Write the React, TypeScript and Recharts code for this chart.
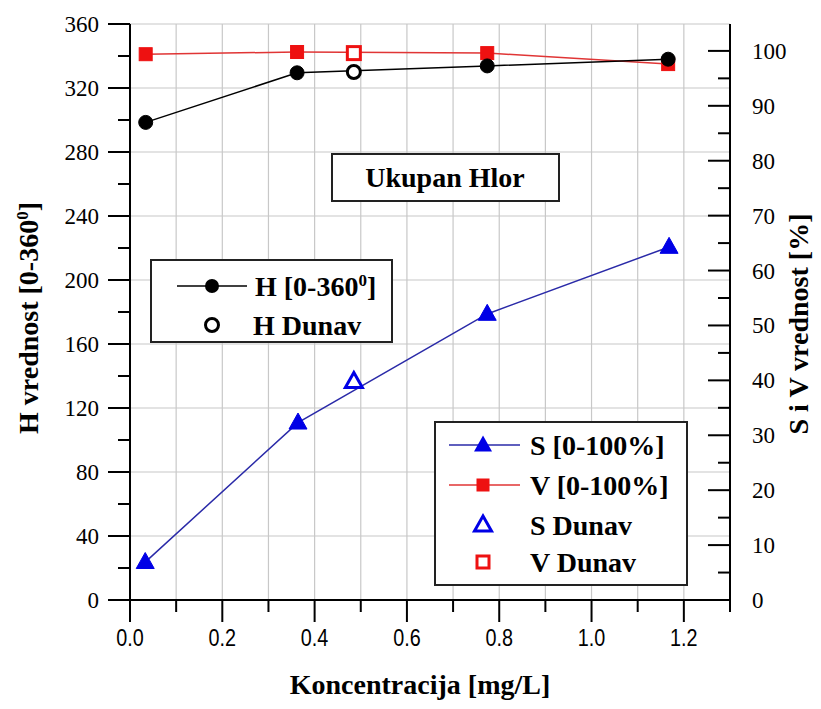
import React from 'react';
import { ComposedChart, Line, XAxis, YAxis, CartesianGrid, Legend } from 'recharts';

// ---- data ----
const hConc = [0.034, 0.362, 0.774, 1.166];
const hValues = [298.5, 329.5, 333.8, 338];
const sConc = [0.033, 0.364, 0.774, 1.168];
const sValues = [6.9, 32.3, 52.1, 64.3];
const vConc = [0.034, 0.362, 0.774, 1.166];
const vValues = [99.4, 99.8, 99.6, 97.6];
const dunavConc = [0.485];
const hDunav = [330];
const sDunav = [39.8];
const vDunav = [99.6];

const xTicks = [0, 0.1, 0.2, 0.3, 0.4, 0.5, 0.6, 0.7, 0.8, 0.9, 1.0, 1.1, 1.2, 1.3];
const hTicks = [0, 20, 40, 60, 80, 100, 120, 140, 160, 180, 200, 220, 240, 260, 280, 300, 320, 340, 360];
const hGrid = [0, 40, 80, 120, 160, 200, 240, 280, 320, 360];
const svTicks = [0, 5, 10, 15, 20, 25, 30, 35, 40, 45, 50, 55, 60, 65, 70, 75, 80, 85, 90, 95, 100];

const hData = hConc.map((x, i) => ({ x, h: hValues[i] }));
const sData = sConc.map((x, i) => ({ x, s: sValues[i] }));
const vData = vConc.map((x, i) => ({ x, v: vValues[i] }));
const hDunavData = dunavConc.map((x, i) => ({ x, h: hDunav[i] }));
const sDunavData = dunavConc.map((x, i) => ({ x, s: sDunav[i] }));
const vDunavData = dunavConc.map((x, i) => ({ x, v: vDunav[i] }));

const W = 813;
const H = 701;
const SERIF = '"Liberation Serif", "Times New Roman", serif';
const SANS = '"Liberation Sans", Arial, sans-serif';
const BLUE = '#0000e6';
const BLUE_LINE = '#2a2aa8';
const RED = '#ee1111';
const RED_LINE = '#e03535';
const MAJ = 22;
const MIN = 12;
const BIG = 28;

const isMajorX = (v: number) => Math.round(v * 10) % 2 === 0;

const BottomTick = (p: any) => {
  const { x, y, payload } = p;
  const major = isMajorX(payload.value);
  return (
    <g>
      <line x1={x} x2={x} y1={y} y2={y + (major ? MAJ : MIN)} stroke="#000" strokeWidth={2} />
      {major && (
        <text transform={`translate(${x},${y + 46}) scale(0.86,1)`} x={0} y={0} textAnchor="middle"
          fontFamily={SANS} fontSize={23} fill="#000">
          {payload.value.toFixed(1)}
        </text>
      )}
    </g>
  );
};

const TopTick = (p: any) => {
  const { x, y, payload } = p;
  const major = isMajorX(payload.value);
  return <line x1={x} x2={x} y1={y} y2={y + (major ? MAJ : MIN)} stroke="#000" strokeWidth={2} />;
};

const LeftTick = (p: any) => {
  const { x, y, payload } = p;
  const major = payload.value % 40 === 0;
  return (
    <g>
      <line x1={x} x2={x - (major ? MAJ : MIN)} y1={y} y2={y} stroke="#000" strokeWidth={2} />
      {major && (
        <text x={x - 31} y={y + 8} textAnchor="end" fontFamily={SERIF} fontSize={23} fill="#000">
          {payload.value}
        </text>
      )}
    </g>
  );
};

const RightTick = (p: any) => {
  const { x, y, payload } = p;
  const major = payload.value % 10 === 0;
  return (
    <g>
      <line x1={x} x2={x - (major ? MAJ : MIN)} y1={y} y2={y} stroke="#000" strokeWidth={2} />
      {major && (
        <text x={x + 22} y={y + 8} textAnchor="start" fontFamily={SERIF} fontSize={23} fill="#000">
          {payload.value}
        </text>
      )}
    </g>
  );
};

const circleDot = (filled: boolean) => (p: any) => (
  <circle key={`c${p.index}-${filled}`} cx={p.cx} cy={p.cy} r={filled ? 7 : 6.5}
    fill={filled ? '#000' : '#fff'} stroke="#000" strokeWidth={filled ? 1 : 3} />
);
const squareDot = (filled: boolean) => (p: any) => (
  <rect key={`s${p.index}-${filled}`} x={p.cx - 6.5} y={p.cy - 6.5} width={13} height={13}
    fill={filled ? RED : '#fff'} stroke={RED} strokeWidth={filled ? 1 : 3} />
);
const triPath = (cx: number, cy: number, w: number, h: number) =>
  `M${cx},${cy - h * 0.6} L${cx + w / 2},${cy + h * 0.4} L${cx - w / 2},${cy + h * 0.4} Z`;
const triDot = (filled: boolean) => (p: any) => (
  <path key={`t${p.index}-${filled}`} d={triPath(p.cx, p.cy, filled ? 18 : 17, filled ? 16 : 15)}
    fill={filled ? BLUE : '#fff'} stroke={BLUE} strokeWidth={filled ? 1 : 3} strokeLinejoin="miter" />
);

const LegendOverlay = () => (
  <svg width={W} height={H} style={{ position: 'absolute', left: 0, top: 0, pointerEvents: 'none' }}>
    {/* title box */}
    <rect x={324} y={146} width={227} height={47} fill="#fff" stroke="#222" strokeWidth={2} />
    <text x={437} y={179} textAnchor="middle" fontFamily={SERIF} fontWeight="bold" fontSize={BIG}>Ukupan Hlor</text>

    {/* legend 1 */}
    <g transform="translate(143,252)">
      <rect x={0} y={0} width={241} height={82} fill="#fff" stroke="#222" strokeWidth={2} />
      <line x1={26} x2={96} y1={26} y2={26} stroke="#000" strokeWidth={1.5} />
      <circle cx={61} cy={26} r={7} fill="#000" />
      <text x={104} y={36} fontFamily={SERIF} fontWeight="bold" fontSize={BIG}>
        H [0-360<tspan dy={-10} fontSize={17}>0</tspan><tspan dy={10}>]</tspan>
      </text>
      <circle cx={61} cy={65} r={6.5} fill="#fff" stroke="#000" strokeWidth={3} />
      <text x={102} y={75} fontFamily={SERIF} fontWeight="bold" fontSize={BIG}>H Dunav</text>
    </g>

    {/* legend 2 */}
    <g transform="translate(427,414)">
      <rect x={0} y={0} width={252} height={163} fill="#fff" stroke="#222" strokeWidth={2} />
      <line x1={14} x2={85} y1={23} y2={23} stroke={BLUE_LINE} strokeWidth={1.5} />
      <path d={triPath(48, 23, 18, 16)} fill={BLUE} />
      <text x={95} y={33} fontFamily={SERIF} fontWeight="bold" fontSize={BIG}>S [0-100%]</text>
      <line x1={14} x2={85} y1={63} y2={63} stroke={RED_LINE} strokeWidth={1.5} />
      <rect x={41.5} y={56.5} width={13} height={13} fill={RED} />
      <text x={95} y={73} fontFamily={SERIF} fontWeight="bold" fontSize={BIG}>V [0-100%]</text>
      <path d={triPath(48, 103, 17, 15)} fill="#fff" stroke={BLUE} strokeWidth={3} />
      <text x={95} y={113} fontFamily={SERIF} fontWeight="bold" fontSize={BIG}>S Dunav</text>
      <rect x={42} y={134} width={12} height={12} fill="#fff" stroke={RED} strokeWidth={3} />
      <text x={95} y={150} fontFamily={SERIF} fontWeight="bold" fontSize={BIG}>V Dunav</text>
    </g>
  </svg>
);

const leftTitle = () => (
  <text transform="translate(30,310) rotate(-90)" textAnchor="middle" fontFamily={SERIF} fontWeight="bold" fontSize={28} fill="#000">
    H vrednost [0-360<tspan dy={-10} fontSize={17}>0</tspan><tspan dy={10}>]</tspan>
  </text>
);
const rightTitle = () => (
  <text transform="translate(800,316) rotate(-90)" textAnchor="middle" fontFamily={SERIF} fontWeight="bold" fontSize={28} fill="#000">
    S i V vrednost [%]
  </text>
);
const bottomTitle = () => (
  <text x={412} y={686} textAnchor="middle" fontFamily={SERIF} fontWeight="bold" fontSize={BIG} fill="#000">
    Koncentracija [mg/L]
  </text>
);

export default function App() {
  return (
    <div style={{ width: 805, height: 693, position: 'relative' }}>
      <ComposedChart width={W} height={H} margin={{ top: 16, right: 31, bottom: 49, left: 62 }}>
        <CartesianGrid stroke="#c8c8c8" strokeWidth={1.2} yAxisId="h" horizontalValues={hGrid} verticalValues={xTicks} />
        <XAxis dataKey="x" type="number" domain={[0, 1.3]} ticks={xTicks} interval={0} allowDataOverflow
          height={60} tickSize={0} tickMargin={0} tick={<BottomTick />} axisLine={{ stroke: '#000', strokeWidth: 2 }}
          tickLine={false} label={bottomTitle} />
        <XAxis xAxisId="top" orientation="top" dataKey="x" type="number" domain={[0, 1.3]} ticks={xTicks} interval={0}
          allowDataOverflow height={0} tickSize={0} tickMargin={0} tick={<TopTick />}
          axisLine={{ stroke: '#000', strokeWidth: 2 }} tickLine={false} />
        <YAxis yAxisId="h" type="number" domain={[0, 360]} ticks={hTicks} interval={0} allowDataOverflow width={60}
          tickSize={0} tickMargin={0} tick={<LeftTick />} axisLine={{ stroke: '#000', strokeWidth: 2 }} tickLine={false}
          label={leftTitle} />
        <YAxis yAxisId="sv" orientation="right" type="number" domain={[0, 104.9]} ticks={svTicks} interval={0}
          allowDataOverflow width={60} tickSize={0} tickMargin={0} tick={<RightTick />}
          axisLine={{ stroke: '#000', strokeWidth: 2 }} tickLine={false} label={rightTitle} />

        <Line yAxisId="sv" data={vData} dataKey="v" stroke={RED_LINE} strokeWidth={1.5} dot={squareDot(true)} isAnimationActive={false} />
        <Line yAxisId="h" data={hData} dataKey="h" stroke="#000" strokeWidth={1.5} dot={circleDot(true)} isAnimationActive={false} />
        <Line yAxisId="sv" data={sData} dataKey="s" stroke={BLUE_LINE} strokeWidth={1.5} dot={triDot(true)} isAnimationActive={false} />
        <Line yAxisId="h" data={hDunavData} dataKey="h" stroke="none" dot={circleDot(false)} isAnimationActive={false} />
        <Line yAxisId="sv" data={vDunavData} dataKey="v" stroke="none" dot={squareDot(false)} isAnimationActive={false} />
        <Line yAxisId="sv" data={sDunavData} dataKey="s" stroke="none" dot={triDot(false)} isAnimationActive={false} />
        <Legend layout="horizontal" verticalAlign="middle" align="center"
          wrapperStyle={{ position: 'absolute', left: 0, top: 0, width: W, height: H, pointerEvents: 'none' }}
          content={() => <LegendOverlay />} />
      </ComposedChart>
    </div>
  );
}
